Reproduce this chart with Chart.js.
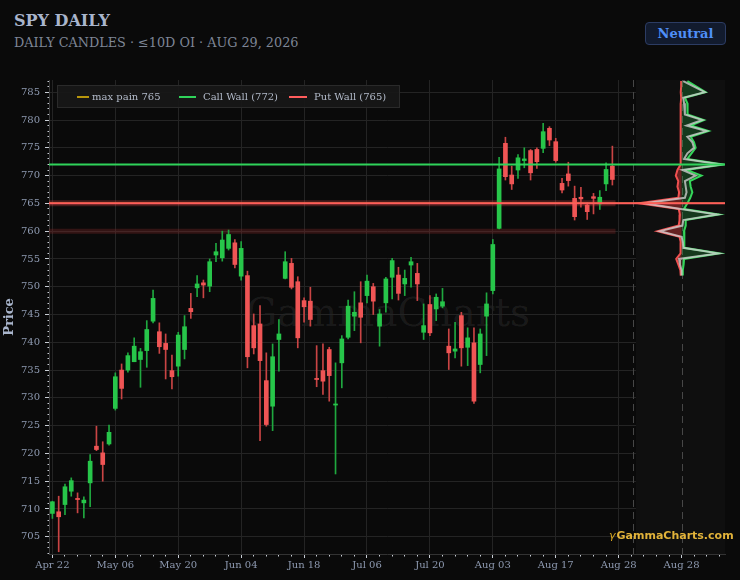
<!DOCTYPE html>
<html>
<head>
<meta charset="utf-8">
<script src="https://cdn.jsdelivr.net/npm/chart.js@4.4.1/dist/chart.umd.min.js"></script>
<style>
  body { margin: 0; background: #0a0a0a; }
  #wrap { position: relative; width: 740px; height: 580px; background: #0a0a0a; overflow: hidden; font-family: 'DejaVu Serif', serif; }
  #chart { position: absolute; left: 0; top: 0; z-index: 2; }
  .title { position: absolute; left: 14px; top: 11px; font-size: 16px; font-weight: bold; color: #a9b5cc; }
  .sub { position: absolute; left: 14px; top: 35px; font-size: 12.8px; color: #7e8696; }
  .badge { position: absolute; left: 645px; top: 22px; width: 79px; height: 21px; border: 1px solid #2c3c63; background: #121b2e;
           border-radius: 4px; color: #4f8ff7; font-weight: bold; font-size: 13px; text-align: center; line-height: 21px; }
  .legend { position: absolute; left: 57px; top: 85px; width: 341px; height: 21px; background: rgba(24,24,24,0.92);
            border: 1px solid #2a2a2a; font-size: 10px; color: #b3bbca; z-index: 3; }
  .legend span { position: absolute; white-space: nowrap; }
  .legend .sw { top: 10px; height: 2px; }
  .legend .tx { top: 0; line-height: 21px; }
  .wm { position: absolute; left: 388px; top: 312px; transform: translate(-50%, -50%); font-size: 39px; color: rgba(255,255,255,0.075); z-index: 1; }
  .brand { position: absolute; left: 609px; top: 529px; font-family: 'DejaVu Sans', sans-serif; font-weight: bold; font-size: 11px;
           color: #e2b33a; z-index: 3; white-space: nowrap; }
  .brand i { font-weight: normal; color: #d9a820; margin-right: 1px; }
</style>
</head>
<body>
<div id="wrap">
  <div class="title">SPY DAILY</div>
  <div class="sub">DAILY CANDLES · ≤10D OI · AUG 29, 2026</div>
  <div class="badge">Neutral</div>
  <div class="wm">GammaCharts</div>
  <canvas id="chart" width="740" height="580"></canvas>
  <div class="legend">
    <span class="sw" style="left:19px;width:12px;background:#b8960c"></span>
    <span class="tx" style="left:34px">max pain 765</span>
    <span class="sw" style="left:121px;width:17px;background:#2fd35a"></span>
    <span class="tx" style="left:145px">Call Wall (772)</span>
    <span class="sw" style="left:231px;width:18px;background:#ff5c5c"></span>
    <span class="tx" style="left:256px">Put Wall (765)</span>
  </div>
  <div class="brand"><i>γ</i>GammaCharts.com</div>
</div>
<script>
// tick labels, one every 10 sessions
const tickLabels = ['Apr 22','May 06','May 20','Jun 04','Jun 18','Jul 06','Jul 20','Aug 03','Aug 17','Aug 28','Aug 28'];

// daily candles, Apr 22 -> Aug 28
const opens = [709.2,709.5,710.8,713.2,711.9,711.1,714.7,721.3,720.1,721.7,
  728.1,735.0,735.0,736.5,736.9,738.5,743.8,741.9,739.8,734.9,
  735.7,738.7,746.1,749.8,750.7,750.1,755.7,755.2,756.9,757.9,
  751.9,752.0,743.0,743.3,733.1,728.5,740.5,751.5,754.2,750.9,
  747.5,747.4,733.5,734.9,738.7,728.7,736.3,740.9,744.7,747.1,
  748.4,750.0,742.9,747.1,751.7,752.1,750.5,753.9,752.4,741.8,
  746.8,746.0,746.5,739.3,738.4,744.8,739.1,739.9,736.0,744.7,
  749.3,760.5,775.8,770.1,771.0,772.7,774.5,774.7,774.9,778.5,
  776.1,768.6,770.3,765.9,766.1,764.7,766.2,764.9,768.5,771.7];
const highs = [711.4,712.3,714.5,715.6,712.9,712.2,719.8,724.9,722.1,725.1,
  734.5,736.1,738.1,740.8,738.9,743.9,749.4,743.5,741.5,737.7,
  741.8,744.8,748.8,752.0,751.2,755.0,757.8,760.0,760.2,758.5,
  758.1,752.8,745.1,746.6,738.1,739.7,744.1,756.3,755.1,751.8,
  748.0,749.9,739.4,739.7,739.1,736.3,741.2,747.6,749.1,750.9,
  752.1,750.6,745.9,751.7,755.1,753.5,753.0,755.3,754.2,746.9,
  748.4,748.7,749.7,742.4,743.6,745.4,742.6,742.6,742.4,748.9,
  758.5,773.3,776.9,771.7,773.8,775.0,774.7,775.0,779.4,778.8,
  776.7,769.5,772.4,768.1,767.9,765.1,766.8,767.3,772.3,775.3];
const lows = [708.3,702.3,709.0,712.3,709.3,708.4,710.4,720.5,715.0,721.5,
  727.8,729.8,734.6,736.5,731.9,735.5,743.5,738.0,733.4,731.6,
  733.9,737.0,744.3,748.2,748.0,749.1,754.5,754.6,756.6,753.4,
  751.2,735.4,737.9,722.3,724.9,724.1,734.8,751.4,749.6,739.0,
  743.6,742.9,732.0,730.6,729.4,716.3,731.8,740.6,742.1,739.9,
  747.1,745.0,739.3,745.4,747.8,747.6,748.4,749.9,747.5,740.5,
  741.2,743.9,746.2,735.1,737.2,735.7,735.8,729.0,734.5,737.6,
  748.7,760.4,769.2,767.5,769.5,771.4,769.2,771.3,774.1,775.4,
  772.4,766.9,768.1,762.0,764.3,762.1,763.1,763.9,767.3,768.3];
const closes = [711.3,708.6,714.0,715.1,711.7,711.6,718.6,720.7,718.0,723.8,
  733.8,731.7,737.6,739.3,738.3,742.3,747.9,739.2,738.7,733.8,
  741.3,742.8,745.5,750.5,750.3,754.5,756.3,758.4,759.4,754.0,
  756.9,737.4,739.0,736.7,725.2,737.4,741.5,754.5,749.9,740.8,
  746.4,744.1,733.3,733.0,734.0,728.9,740.6,746.5,745.4,744.5,
  751.0,747.4,745.1,751.4,754.7,748.8,751.5,754.5,750.5,743.0,
  741.7,748.1,747.3,738.1,738.8,739.0,740.8,729.4,741.5,746.9,
  757.6,771.2,769.8,768.5,773.2,773.0,770.5,772.5,777.9,776.4,
  772.7,767.4,769.1,762.6,765.8,763.5,765.9,766.1,771.1,769.3];

// key levels
const callWall = 772;
const putWall = 765;
const maxPain = 765;
const zoneLevels = [765, 760];

// <=10D open interest profile by strike (relative units)
const strikes = [787,786,785,784,783,782,781,780,779,778,777,776,775,774,773,772,771,770,769,768,
  767,766,765,764,763,762,761,760,759,758,757,756,755,754,753,752];
const callOI = [14,36,58,8,14,15,14,54,22,65,22,30,34,24,14,100,12,48,20,22,
  26,21,14,6,91,10,10,6,6,6,8,91,6,5,3,3];
const putOI = [-1,-1,-2,-1,-2,-2,-2,-3,-2,-2,-2,-2,-3,-2,-2,-3,-10,-14,-8,-10,
  -6,-8,-103,-7,-4,-5,-7,-58,-5,-2,-2,-3,-13,-8,-3,-2];
const netOI = [4,30,56,4,6,8,8,50,12,60,14,26,30,14,6,96,2,34,8,10,
  12,8,-90,-2,86,4,2,-52,0,3,4,88,-6,-4,0,0];

// axis layout
const xMin = -0.54, xMax = 106.9;
const yMin = 701.9, yMax = 787.2;
const panelStart = 92.75, nowLine = 92.35, profileCenter = 100, profileMax = 105;
const profileMin = -profileMax * (profileCenter - xMin) / (xMax - profileCenter);
const zoneEnd = opens.length - 0.5;

const serif = 'DejaVu Serif';
const upBody = '#27c64a', downBody = '#f05555';
const upWick = '#1fa83f', downWick = '#c94444';

var bodyData = [], wickData = [], bodyColors = [], wickColors = [];
for (var i = 0; i < opens.length; i++) {
  var up = closes[i] >= opens[i];
  bodyData.push({x: i, y: [opens[i], closes[i]]});
  wickData.push({x: i, y: [lows[i], highs[i]]});
  bodyColors.push(up ? upBody : downBody);
  wickColors.push(up ? upWick : downWick);
}

function level(y, x0, x1) {
  return [{x: x0, y: y}, {x: x1, y: y}];
}
function profile(vals) {
  return strikes.map((s, i) => ({x: vals[i], y: s}));
}

const panelPlugin = {
  id: 'panel',
  beforeDatasetsDraw(chart) {
    const {ctx, chartArea: a, scales} = chart;
    const p0 = scales.x.getPixelForValue(panelStart);
    ctx.save();
    ctx.fillStyle = '#0f0f0f';
    ctx.fillRect(p0, a.top, a.right - p0, a.bottom - a.top);
    ctx.strokeStyle = '#474747';
    ctx.lineWidth = 1;
    ctx.setLineDash([7, 5]);
    [scales.x.getPixelForValue(nowLine), scales.xp.getPixelForValue(0)].forEach(function (px) {
      px = Math.round(px) + 0.5;
      ctx.beginPath();
      ctx.moveTo(px, a.top);
      ctx.lineTo(px, a.bottom);
      ctx.stroke();
    });
    ctx.restore();
  }
};

new Chart(document.getElementById('chart').getContext('2d'), {
  type: 'bar',
  data: {
    datasets: [
      { type: 'line', data: level(callWall, xMin, xMax), borderColor: '#2fd35a', borderWidth: 2, pointRadius: 0, order: 0 },
      { type: 'line', data: level(putWall, xMin, xMax), borderColor: '#ff5c5c', borderWidth: 2, pointRadius: 0, order: 0 },
      { type: 'line', data: level(maxPain, xMin, xMax), borderColor: '#b8960c', borderWidth: 1.5, pointRadius: 0, order: 1 },
      { type: 'line', xAxisID: 'xp', indexAxis: 'y', data: profile(netOI), borderColor: 'rgba(205,205,205,0.8)', borderWidth: 2,
        pointRadius: 0, fill: false, order: 2 },
      { type: 'line', xAxisID: 'xp', indexAxis: 'y', data: profile(callOI), borderColor: '#35d65a', borderWidth: 2,
        pointRadius: 0, fill: 'origin', backgroundColor: 'rgba(40,170,70,0.28)', order: 3 },
      { type: 'line', xAxisID: 'xp', indexAxis: 'y', data: profile(putOI), borderColor: '#f05050', borderWidth: 2,
        pointRadius: 0, fill: 'origin', backgroundColor: 'rgba(160,45,45,0.6)', order: 4 },
      { data: bodyData, backgroundColor: bodyColors, barThickness: 4, minBarLength: 1, grouped: false, borderWidth: 0, order: 5 },
      { data: wickData, backgroundColor: wickColors, barThickness: 1, minBarLength: 1, grouped: false, borderWidth: 0, order: 6 },
      { type: 'line', data: level(zoneLevels[0], xMin, zoneEnd), borderColor: 'rgba(210,70,70,0.3)', borderWidth: 6, pointRadius: 0, order: 7 },
      { type: 'line', data: level(zoneLevels[1], xMin, zoneEnd), borderColor: 'rgba(130,40,40,0.35)', borderWidth: 5, pointRadius: 0, order: 7 }
    ]
  },
  options: {
    responsive: false,
    animation: false,
    events: [],
    layout: { padding: { top: 80, right: 15, bottom: 0, left: 0 } },
    plugins: { legend: { display: false }, tooltip: { enabled: false } },
    scales: {
      x: {
        type: 'linear', min: xMin, max: xMax, offset: false, weight: 1,
        afterFit: function (s) { s.height = 26; },
        afterBuildTicks: function (s) {
          var t = [];
          for (var v = 0; v <= xMax; v += 2) t.push({value: v});
          s.ticks = t;
        },
        ticks: {
          autoSkip: false, maxRotation: 0, padding: 1, color: '#8e9ab1', font: { family: serif, size: 10 },
          callback: function (v) { return v % 10 === 0 ? tickLabels[v / 10] : ''; }
        },
        grid: {
          offset: false, tickLength: 4, tickColor: '#c9ced6',
          color: function (c) { return c.tick && c.tick.value % 10 === 0 && c.tick.value <= 90 ? '#242424' : 'rgba(0,0,0,0)'; },
          tickBorderDash: function (c) { return c.tick && c.tick.value % 10 === 0 ? [] : [1.5, 20]; }
        },
        border: { color: '#333333' }
      },
      xp: {
        type: 'linear', position: 'bottom', display: true, weight: 0, min: profileMin, max: profileMax, offset: false,
        afterFit: function (s) { s.height = 0; },
        ticks: { display: false },
        grid: { display: false, drawTicks: false },
        border: { display: false }
      },
      y: {
        type: 'linear', min: yMin, max: yMax,
        afterFit: function (s) { s.width = 49; },
        afterBuildTicks: function (s) {
          var t = [];
          for (var v = Math.ceil(yMin); v <= yMax; v++) t.push({value: v});
          s.ticks = t;
        },
        ticks: {
          autoSkip: false, padding: 5, color: '#8e9ab1', font: { family: serif, size: 10 },
          callback: function (v) { return v % 5 === 0 ? v : ''; }
        },
        grid: {
          tickLength: 4, tickColor: '#c9ced6',
          color: function (c) { return c.tick && c.tick.value % 5 === 0 ? '#242424' : 'rgba(0,0,0,0)'; },
          tickBorderDash: function (c) { return c.tick && c.tick.value % 5 === 0 ? [] : [1.5, 20]; },
          tickBorderDashOffset: function (c) { return c.tick && c.tick.value % 5 === 0 ? 0 : -2.5; }
        },
        border: { color: '#3a3a3a' },
        title: { display: true, text: 'Price', color: '#a9b5cc', font: { family: serif, size: 13, weight: 'bold' }, padding: { top: 2, bottom: 0 } }
      }
    }
  },
  plugins: [panelPlugin]
});
</script>
</body>
</html>
